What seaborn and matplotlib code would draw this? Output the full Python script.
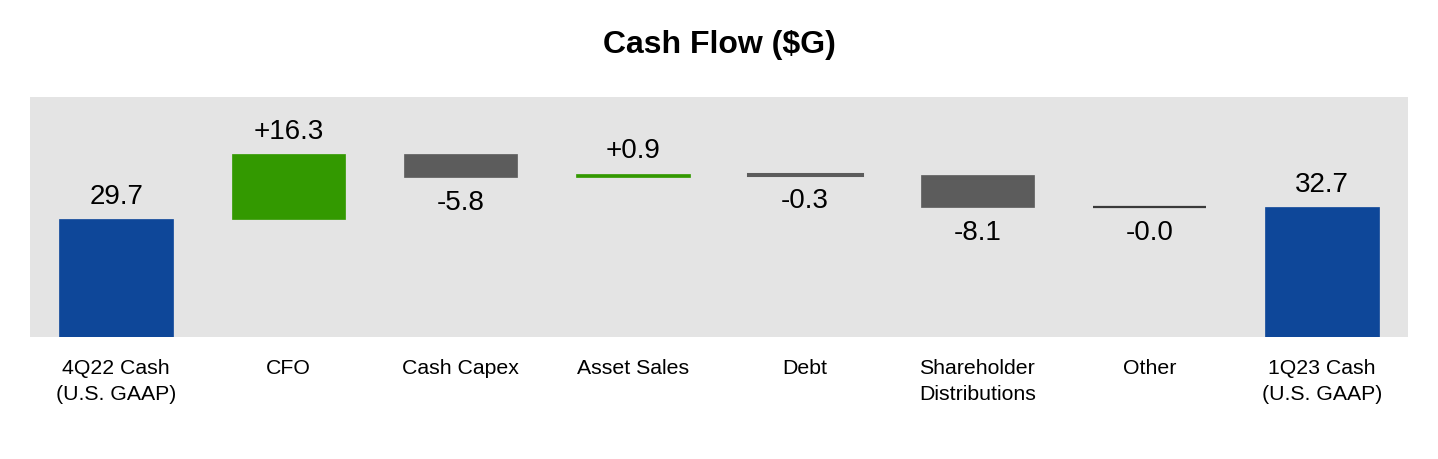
import matplotlib
matplotlib.use("Agg")
import matplotlib.pyplot as plt
import numpy as np
import pandas as pd
import seaborn as sns

# ── data ──────────────────────────────────────────────────────────────────────
categories = ["4Q22 Cash\n(U.S. GAAP)", "CFO", "Cash Capex", "Asset Sales",
              "Debt", "Shareholder\nDistributions", "Other", "1Q23 Cash\n(U.S. GAAP)"]
start_cash = 29.7
changes = [16.3, -5.8, 0.9, -0.3, -8.1, -0.04]
end_cash = 32.7
value_labels = ["29.7", "+16.3", "-5.8", "+0.9", "-0.3", "-8.1", "-0.0", "32.7"]

BLUE = "#0E4799"
GREEN = "#339900"
GRAY = "#5C5C5C"
DARK = "#3A3A3A"
PANEL = "#E4E4E4"

# waterfall geometry from the data
running = start_cash + np.concatenate([[0], np.cumsum(changes)])
bottoms = np.concatenate([[0], running[:-1], [0]])
heights = np.concatenate([[start_cash], changes, [end_cash]])
colors = [BLUE] + [GREEN if c > 0 else GRAY for c in changes] + [BLUE]
colors[-2] = DARK  # "Other" is drawn as a thin dark rule
edge_widths = [0.5, 0.5, 0.5, 0.5, 2.2, 0.5, 1.6, 0.5]

df = pd.DataFrame({"category": categories, "height": heights})

sns.set_theme(style="white")
plt.rcParams["font.family"] = ["Liberation Sans", "DejaVu Sans"]

fig = plt.figure(figsize=(14.38, 4.6), dpi=100)
ax = fig.add_axes([30 / 1438, 122 / 460, 1378 / 1438, 240 / 460])

sns.barplot(data=df, x="category", y="height", hue="category", palette=colors,
            legend=False, width=0.66, saturation=1, ax=ax)

# shift each bar to its floating start
for patch, b, c, lw in zip(ax.patches, bottoms, colors, edge_widths):
    patch.set_y(b)
    patch.set_edgecolor(c)
    patch.set_linewidth(lw)

ax.set_facecolor(PANEL)
ax.set_xlim(-0.5, len(categories) - 0.5)
ax.set_ylim(0, 60.4)
ax.set_yticks([])
ax.set_xlabel("")
ax.set_ylabel("")
for s in ax.spines.values():
    s.set_visible(False)
ax.tick_params(axis="x", length=0, pad=15, labelsize=15.3, labelcolor="black")
for t in ax.get_xticklabels():
    t.set_linespacing(1.45)

# value labels
for i, (b, h, lbl) in enumerate(zip(bottoms, heights, value_labels)):
    top = max(b, b + h)
    low = min(b, b + h)
    if h >= 0:
        ax.annotate(lbl, xy=(i, top), xytext=(0, 7.5), textcoords="offset points",
                    ha="center", va="bottom", fontsize=20, color="black")
    else:
        ax.annotate(lbl, xy=(i, low), xytext=(0, -8.5), textcoords="offset points",
                    ha="center", va="top", fontsize=20, color="black")

fig.text(719 / 1438, 1 - 45 / 460, "Cash Flow ($G)", ha="center", va="center",
         fontsize=23, fontweight="bold", color="black")

fig.savefig("out.png", dpi=100, facecolor="white")
